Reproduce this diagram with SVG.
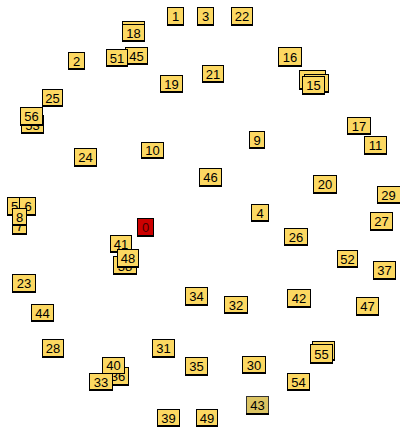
<svg xmlns="http://www.w3.org/2000/svg" width="400" height="429" viewBox="0 0 400 429">
<style>
rect.b{fill:#fcd862;stroke:#000;stroke-width:1}
rect.r{fill:#cc0000;stroke:#000;stroke-width:1}
rect.o{fill:#dcc463;stroke:#333;stroke-width:1}
line.s{stroke:#000;stroke-width:2}
text{font-family:"Liberation Sans",Arial,sans-serif;font-size:13px;fill:#000;text-anchor:middle}
text.rt{fill:#400}
</style>
<rect width="400" height="429" fill="#fff"/>
<g id="nodes">
<g id="n1" transform="translate(167,7)"><rect class="b" x="0.5" y="0.5" width="16" height="17"/><line class="s" x1="0" y1="18" x2="17" y2="18"/><text x="8.5" y="14">1</text></g>
<g id="n3" transform="translate(197,7)"><rect class="b" x="0.5" y="0.5" width="16" height="17"/><line class="s" x1="0" y1="18" x2="17" y2="18"/><text x="8.5" y="14">3</text></g>
<g id="n22" transform="translate(231,7)"><rect class="b" x="0.5" y="0.5" width="21" height="17"/><line class="s" x1="0" y1="18" x2="22" y2="18"/><text x="11" y="14">22</text></g>
<g id="n14" transform="translate(122,21)"><rect class="b" x="0.5" y="0.5" width="22" height="16"/><line class="s" x1="0" y1="17" x2="23" y2="17"/></g>
<g id="n18" transform="translate(122,24)"><rect class="b" x="0.5" y="0.5" width="22" height="16"/><line class="s" x1="0" y1="17" x2="23" y2="17"/><text x="11.5" y="14">18</text></g>
<g id="n45" transform="translate(125,47)"><rect class="b" x="0.5" y="0.5" width="22" height="16"/><line class="s" x1="0" y1="17" x2="23" y2="17"/><text x="11.5" y="14">45</text></g>
<g id="n51" transform="translate(106,49)"><rect class="b" x="0.5" y="0.5" width="21" height="16"/><line class="s" x1="0" y1="17" x2="22" y2="17"/><text x="11" y="14">51</text></g>
<g id="n2" transform="translate(68,52)"><rect class="b" x="0.5" y="0.5" width="16" height="16"/><line class="s" x1="0" y1="17" x2="17" y2="17"/><text x="8.5" y="14">2</text></g>
<g id="n19" transform="translate(160,75)"><rect class="b" x="0.5" y="0.5" width="22" height="16"/><line class="s" x1="0" y1="17" x2="23" y2="17"/><text x="11.5" y="14">19</text></g>
<g id="n21" transform="translate(202,65)"><rect class="b" x="0.5" y="0.5" width="21" height="16"/><line class="s" x1="0" y1="17" x2="22" y2="17"/><text x="11" y="14">21</text></g>
<g id="n16" transform="translate(278,47)"><rect class="b" x="0.5" y="0.5" width="23" height="18"/><line class="s" x1="0" y1="19" x2="24" y2="19"/><text x="12" y="15">16</text></g>
<g id="n12" transform="translate(299,70)"><rect class="b" x="0.5" y="0.5" width="26" height="18"/><line class="s" x1="0" y1="19" x2="27" y2="19"/></g>
<g id="n13" transform="translate(304,74)"><rect class="b" x="0.5" y="0.5" width="24" height="17"/><line class="s" x1="0" y1="18" x2="25" y2="18"/></g>
<g id="n15" transform="translate(302,76)"><rect class="b" x="0.5" y="0.5" width="22" height="17"/><line class="s" x1="0" y1="18" x2="23" y2="18"/><text x="11.5" y="14">15</text></g>
<g id="n25" transform="translate(42,89)"><rect class="b" x="0.5" y="0.5" width="20" height="16"/><line class="s" x1="0" y1="17" x2="21" y2="17"/><text x="10.5" y="14" fill="#333">25</text></g>
<g id="n53" transform="translate(21,115)"><rect class="b" x="0.5" y="0.5" width="22" height="17"/><line class="s" x1="0" y1="18" x2="23" y2="18"/><text x="11.5" y="15">53</text></g>
<g id="n56" transform="translate(20,107)"><rect class="b" x="0.5" y="0.5" width="22" height="17"/><line class="s" x1="0" y1="18" x2="23" y2="18"/><text x="11.5" y="14">56</text></g>
<g id="n17" transform="translate(347,117)"><rect class="b" x="0.5" y="0.5" width="23" height="16"/><line class="s" x1="0" y1="17" x2="24" y2="17"/><text x="12" y="14">17</text></g>
<g id="n11" transform="translate(364,136)"><rect class="b" x="0.5" y="0.5" width="22" height="17"/><line class="s" x1="0" y1="18" x2="23" y2="18"/><text x="11.5" y="14">11</text></g>
<g id="n9" transform="translate(249,131)"><rect class="b" x="0.5" y="0.5" width="15" height="16"/><line class="s" x1="0" y1="17" x2="16" y2="17"/><text x="8" y="14">9</text></g>
<g id="n10" transform="translate(141,142)"><rect class="b" x="0.5" y="0.5" width="22" height="15"/><line class="s" x1="0" y1="16" x2="23" y2="16"/><text x="11.5" y="13">10</text></g>
<g id="n24" transform="translate(74,148)"><rect class="b" x="0.5" y="0.5" width="22" height="17"/><line class="s" x1="0" y1="18" x2="23" y2="18"/><text x="11.5" y="14">24</text></g>
<g id="n46" transform="translate(199,168)"><rect class="b" x="0.5" y="0.5" width="22" height="17"/><line class="s" x1="0" y1="18" x2="23" y2="18"/><text x="11.5" y="14">46</text></g>
<g id="n20" transform="translate(313,175)"><rect class="b" x="0.5" y="0.5" width="23" height="17"/><line class="s" x1="0" y1="18" x2="24" y2="18"/><text x="12" y="14">20</text></g>
<g id="n29" transform="translate(377,186)"><rect class="b" x="0.5" y="0.5" width="23" height="16"/><line class="s" x1="0" y1="17" x2="24" y2="17"/><text x="11.5" y="14" fill="#333">29</text></g>
<g id="n4" transform="translate(251,204)"><rect class="b" x="0.5" y="0.5" width="17" height="16"/><line class="s" x1="0" y1="17" x2="18" y2="17"/><text x="9" y="14">4</text></g>
<g id="n27" transform="translate(370,212)"><rect class="b" x="0.5" y="0.5" width="22" height="17"/><line class="s" x1="0" y1="18" x2="23" y2="18"/><text x="11.5" y="14">27</text></g>
<g id="n0" transform="translate(137,218)"><rect class="r" x="0.5" y="0.5" width="16" height="17"/><line class="s" x1="0" y1="18" x2="17" y2="18"/><text class="rt" x="8.5" y="14">0</text></g>
<g id="n5" transform="translate(7,197)"><rect class="b" x="0.5" y="0.5" width="14" height="17"/><line class="s" x1="0" y1="18" x2="15" y2="18"/><text x="7.5" y="14">5</text></g>
<g id="n6" transform="translate(19,197)"><rect class="b" x="0.5" y="0.5" width="16" height="17"/><line class="s" x1="0" y1="18" x2="17" y2="18"/><text x="9" y="14">6</text></g>
<g id="n7" transform="translate(12,217)"><rect class="b" x="0.5" y="0.5" width="14" height="16"/><line class="s" x1="0" y1="17" x2="15" y2="17"/><text x="7.5" y="14">7</text></g>
<g id="n8" transform="translate(12,208)"><rect class="b" x="0.5" y="0.5" width="14" height="16"/><line class="s" x1="0" y1="17" x2="15" y2="17"/><text x="7.5" y="14">8</text></g>
<g id="n26" transform="translate(284,228)"><rect class="b" x="0.5" y="0.5" width="23" height="16"/><line class="s" x1="0" y1="17" x2="24" y2="17"/><text x="12" y="14">26</text></g>
<g id="n41" transform="translate(110,235)"><rect class="b" x="0.5" y="0.5" width="21" height="16"/><line class="s" x1="0" y1="17" x2="22" y2="17"/><text x="11" y="14">41</text></g>
<g id="n38" transform="translate(113,256)"><rect class="b" x="0.5" y="0.5" width="23" height="17"/><line class="s" x1="0" y1="18" x2="24" y2="18"/><text x="12" y="15">38</text></g>
<g id="n48" transform="translate(117,249)"><rect class="b" x="0.5" y="0.5" width="21" height="17"/><line class="s" x1="0" y1="18" x2="22" y2="18"/><text x="11" y="14">48</text></g>
<g id="n52" transform="translate(337,250)"><rect class="b" x="0.5" y="0.5" width="20" height="16"/><line class="s" x1="0" y1="17" x2="21" y2="17"/><text x="10.5" y="14">52</text></g>
<g id="n37" transform="translate(373,261)"><rect class="b" x="0.5" y="0.5" width="22" height="17"/><line class="s" x1="0" y1="18" x2="23" y2="18"/><text x="11.5" y="14">37</text></g>
<g id="n23" transform="translate(12,274)"><rect class="b" x="0.5" y="0.5" width="23" height="17"/><line class="s" x1="0" y1="18" x2="24" y2="18"/><text x="12" y="14">23</text></g>
<g id="n44" transform="translate(31,304)"><rect class="b" x="0.5" y="0.5" width="22" height="16"/><line class="s" x1="0" y1="17" x2="23" y2="17"/><text x="11.5" y="14">44</text></g>
<g id="n34" transform="translate(185,287)"><rect class="b" x="0.5" y="0.5" width="22" height="17"/><line class="s" x1="0" y1="18" x2="23" y2="18"/><text x="11.5" y="14">34</text></g>
<g id="n32" transform="translate(224,296)"><rect class="b" x="0.5" y="0.5" width="23" height="16"/><line class="s" x1="0" y1="17" x2="24" y2="17"/><text x="12" y="14">32</text></g>
<g id="n42" transform="translate(287,289)"><rect class="b" x="0.5" y="0.5" width="23" height="17"/><line class="s" x1="0" y1="18" x2="24" y2="18"/><text x="12" y="14">42</text></g>
<g id="n47" transform="translate(356,297)"><rect class="b" x="0.5" y="0.5" width="22" height="17"/><line class="s" x1="0" y1="18" x2="23" y2="18"/><text x="11.5" y="14">47</text></g>
<g id="n28" transform="translate(42,339)"><rect class="b" x="0.5" y="0.5" width="21" height="17"/><line class="s" x1="0" y1="18" x2="22" y2="18"/><text x="11" y="14">28</text></g>
<g id="n31" transform="translate(152,339)"><rect class="b" x="0.5" y="0.5" width="22" height="17"/><line class="s" x1="0" y1="18" x2="23" y2="18"/><text x="11.5" y="14">31</text></g>
<g id="n35" transform="translate(185,357)"><rect class="b" x="0.5" y="0.5" width="22" height="17"/><line class="s" x1="0" y1="18" x2="23" y2="18"/><text x="11.5" y="14">35</text></g>
<g id="n30" transform="translate(242,356)"><rect class="b" x="0.5" y="0.5" width="23" height="16"/><line class="s" x1="0" y1="17" x2="24" y2="17"/><text x="12" y="14">30</text></g>
<g id="n50" transform="translate(312,341)"><rect class="b" x="0.5" y="0.5" width="22" height="18"/><line class="s" x1="0" y1="19" x2="23" y2="19"/></g>
<g id="n55" transform="translate(310,344)"><rect class="b" x="0.5" y="0.5" width="22" height="18"/><line class="s" x1="0" y1="19" x2="23" y2="19"/><text x="11.5" y="15">55</text></g>
<g id="n54" transform="translate(287,373)"><rect class="b" x="0.5" y="0.5" width="22" height="16"/><line class="s" x1="0" y1="17" x2="23" y2="17"/><text x="11.5" y="14">54</text></g>
<g id="n36" transform="translate(107,367)"><rect class="b" x="0.5" y="0.5" width="21" height="17"/><line class="s" x1="0" y1="18" x2="22" y2="18"/><text x="11" y="14">36</text></g>
<g id="n33" transform="translate(89,373)"><rect class="b" x="0.5" y="0.5" width="23" height="16"/><line class="s" x1="0" y1="17" x2="24" y2="17"/><text x="12" y="14">33</text></g>
<g id="n40" transform="translate(102,357)"><rect class="b" x="0.5" y="0.5" width="22" height="16"/><line class="s" x1="0" y1="16.5" x2="23" y2="16.5" style="stroke-width:1"/><text x="11.5" y="13">40</text></g>
<g id="n43" transform="translate(246,396)"><rect class="o" x="0.5" y="0.5" width="22" height="17"/><line class="s" x1="0" y1="18" x2="23" y2="18"/><text x="11.5" y="14" fill="#333">43</text></g>
<g id="n39" transform="translate(157,409)"><rect class="b" x="0.5" y="0.5" width="22" height="16"/><line class="s" x1="0" y1="17" x2="23" y2="17"/><text x="11.5" y="14">39</text></g>
<g id="n49" transform="translate(196,409)"><rect class="b" x="0.5" y="0.5" width="21" height="16"/><line class="s" x1="0" y1="17" x2="22" y2="17"/><text x="11" y="14">49</text></g>
</g>
<g id="connectors"></g>
</svg>
